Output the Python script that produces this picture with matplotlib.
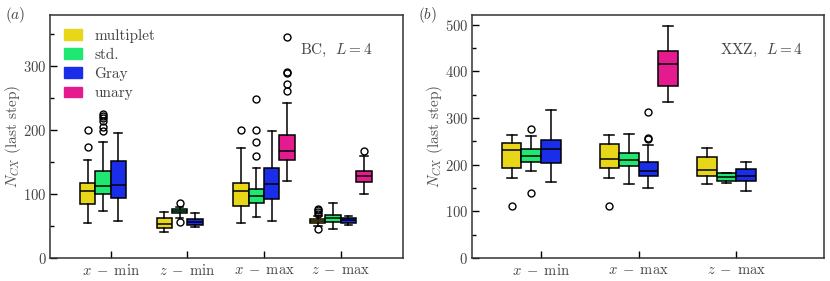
import numpy as np
import matplotlib
matplotlib.use("Agg")
import matplotlib.pyplot as plt
from matplotlib.patches import Patch
from matplotlib.ticker import MultipleLocator

plt.rcParams['font.family'] = 'serif'
plt.rcParams['font.serif'] = ['cmr10', 'DejaVu Serif']
plt.rcParams['mathtext.fontset'] = 'cm'
plt.rcParams['axes.unicode_minus'] = False
plt.rcParams['axes.formatter.use_mathtext'] = True

# ------------------------------- data ----------------------------------
labels = ['multiplet', 'std.', 'Gray', 'unary']
colors = ['#e8d619', '#1ee872', '#1a2de8', '#e61a8f']

# each box: (whislo, q1, med, q3, whishi, fliers)
# panel (a): BC, L=4
groups_a = [r'$x\;-\;\mathrm{min}$', r'$z\;-\;\mathrm{min}$',
            r'$x\;-\;\mathrm{max}$', r'$z\;-\;\mathrm{max}$']
boxes_a = [
    [(54, 85, 104.5, 118, 154, [173, 200]),
     (74, 100, 112.5, 136.5, 182, [198, 205, 215, 219, 222, 225]),
     (58, 94, 114.5, 151.5, 196, []),
     None],
    [(40, 47.5, 53.5, 62.5, 71.5, []),
     (62, 70.5, 73, 76, 80, [56, 86]),
     (48, 52, 56, 60.5, 70, []),
     None],
    [(54, 81.5, 104.5, 117.5, 172, [200]),
     (64, 86.5, 96.5, 108, 140.5, [159, 182, 200, 248]),
     (58, 92, 115.5, 141, 198, []),
     (120, 153.5, 167, 193, 242, [261, 272, 289, 291, 346])],
    [(49.5, 54, 57.5, 60.5, 65.5, [45, 69, 72, 75, 77]),
     (46, 56.5, 62, 67.5, 86.5, []),
     (51, 55, 59, 63, 66, []),
     (100.5, 119, 128, 136, 160, [168])],
]

# panel (b): XXZ, L=4
groups_b = [r'$x\;-\;\mathrm{min}$', r'$x\;-\;\mathrm{max}$', r'$z\;-\;\mathrm{max}$']
boxes_b = [
    [(172, 194, 230.5, 245.5, 264, [112]),
     (186, 206, 218.5, 233, 261.5, [140, 277]),
     (164, 204, 233, 252, 316.5, []),
     None],
    [(172, 194, 212.5, 243.5, 264, [112]),
     (158, 197, 211, 226, 266.5, []),
     (150.5, 175.5, 187, 205.5, 242, [256, 258, 313]),
     (335, 369.5, 415, 443.5, 497, [])],
    [(158, 176, 188, 216, 235, []),
     (160.5, 164.5, 173.5, 182.5, 182.5, []),
     (144, 166, 175.5, 190, 206, []),
     None],
]

offsets = [-0.3, -0.1, 0.1, 0.3]
width = 0.2


def draw_panel(ax, groups, boxes, ylab_x):
    for g, row in enumerate(boxes):
        for k, b in enumerate(row):
            if b is None:
                continue
            lo, q1, med, q3, hi, fl = b
            st = dict(whislo=lo, q1=q1, med=med, q3=q3, whishi=hi, fliers=fl)
            ax.bxp([st], positions=[g + 1 + offsets[k]], widths=width,
                   patch_artist=True, showfliers=True,
                   boxprops=dict(facecolor=colors[k], edgecolor='k', linewidth=1.1),
                   medianprops=dict(color='k', linewidth=1.1),
                   whiskerprops=dict(color='k', linewidth=1.1),
                   capprops=dict(color='k', linewidth=1.1),
                   capwidths=width * 0.5,
                   flierprops=dict(marker='o', markerfacecolor='none',
                                   markeredgecolor='k', markersize=5,
                                   markeredgewidth=1.0))
    ax.set_xticks(np.arange(1, len(groups) + 1))
    ax.set_xticklabels(groups)
    ax.yaxis.set_major_locator(MultipleLocator(100))
    ax.yaxis.set_minor_locator(MultipleLocator(50))
    ax.tick_params(axis='both', which='both', direction='in', colors='k',
                   labelcolor='#444444', labelsize=10.5)
    ax.tick_params(axis='both', which='major', length=5, width=1)
    ax.tick_params(axis='both', which='minor', length=3, width=1)
    ax.tick_params(axis='y', which='major', pad=2.5)
    ax.tick_params(axis='x', which='minor', length=0)
    for s in ax.spines.values():
        s.set_linewidth(1.1)
        s.set_color('#333333')
    ax.set_ylabel(r'$N_{CX}$ (last step)', fontsize=11, color='#555555')
    ax.yaxis.set_label_coords(ylab_x, 0.5)


fig = plt.figure(figsize=(8.3, 2.81), dpi=100)
ax1 = fig.add_axes([0.0602, 0.0819, 0.4253, 0.8647])
ax2 = fig.add_axes([0.5683, 0.0819, 0.4245, 0.8647])

draw_panel(ax1, groups_a, boxes_a, -0.076)
ax1.set_xlim(0.21, 4.81)
ax1.set_ylim(0, 380)
ax1.text(0.915, 0.855, r'BC, $\ L=4$', transform=ax1.transAxes, ha='right',
         va='center', fontsize=11, color='#444444')
handles = [Patch(facecolor=c, edgecolor=c) for c in colors]
ax1.legend(handles, labels, loc='upper left', frameon=False, fontsize=11,
           handlelength=1.2, handleheight=0.7, labelspacing=0.35,
           handletextpad=0.8, borderaxespad=0.5, labelcolor='#444444')

draw_panel(ax2, groups_b, boxes_b, -0.076)
ax2.set_xlim(0.29, 3.9)
ax2.set_ylim(0, 521)
ax2.text(0.94, 0.855, r'XXZ, $\ L=4$', transform=ax2.transAxes, ha='right',
         va='center', fontsize=11, color='#444444')

fig.text(0.006, 0.945, r'$(a)$', fontsize=11, color='#444444', va='center')
fig.text(0.504, 0.945, r'$(b)$', fontsize=11, color='#444444', va='center')

fig.savefig('out.png', dpi=100)
